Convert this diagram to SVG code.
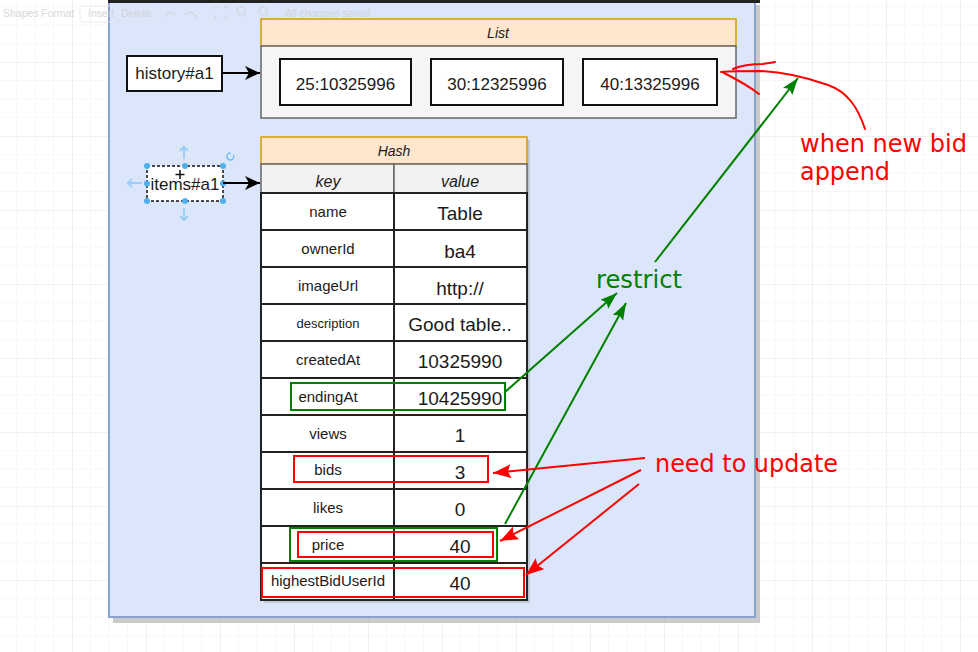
<svg xmlns="http://www.w3.org/2000/svg" width="978" height="652" viewBox="0 0 978 652">
<defs>
<pattern id="grid" x="72" y="62" width="74" height="74" patternUnits="userSpaceOnUse">
<rect width="74" height="74" fill="#ffffff"/>
<path d="M18.5 0V74M37 0V74M55.5 0V74M0 18.5H74M0 37H74M0 55.5H74" stroke="#f8f8f8" stroke-width="1" fill="none"/>
<path d="M0.5 0V74M0 0.5H74" stroke="#f0f0f0" stroke-width="1" fill="none"/>
</pattern>
<marker id="ab" markerUnits="userSpaceOnUse" markerWidth="16" markerHeight="14" refX="15" refY="7" orient="auto">
<path d="M0,0 L15,7 L0,14 L4,7 z" fill="#000"/>
</marker>
<marker id="ag" markerUnits="userSpaceOnUse" markerWidth="18" markerHeight="12" refX="17" refY="6" orient="auto">
<path d="M0,0 L17,6 L0,12 L3,6 z" fill="#008000"/>
</marker>
<marker id="ar" markerUnits="userSpaceOnUse" markerWidth="19" markerHeight="14" refX="18" refY="7" orient="auto">
<path d="M0,0 L18,7 L0,14 L3,7 z" fill="#ff0000"/>
</marker>
</defs>
<style>
.t{font-family:"Liberation Sans",Arial,Helvetica,sans-serif;fill:#1a1a1a;text-anchor:middle}
.k{font-size:15px}
.v{font-size:19px}
.cell{fill:#ffffff;stroke:#222;stroke-width:2}
.box{fill:#ffffff;stroke:#111;stroke-width:2}
.hdr{fill:#ffe6cc;stroke:#d79b00;stroke-width:1.5}
.ann{font-family:"DejaVu Sans","Open Sans",sans-serif;font-size:24px}
.tb{font-family:"Liberation Sans",Arial,sans-serif;font-size:10.5px;fill:#cfcfcf}
.g{stroke:#008000;stroke-width:2;fill:none}
.r{stroke:#ff0000;stroke-width:2;fill:none}
.hd{fill:#4fb0ee}
</style>
<rect width="978" height="652" fill="url(#grid)"/>
<g id="panel">
<rect x="113" y="5" width="647" height="618" fill="#b5b5b5" opacity="0.7"/>
<rect x="109" y="1" width="646" height="616" fill="#dce6fa" stroke="#8ba2cf" stroke-width="2"/>
<rect x="108" y="0" width="652" height="3" fill="#222"/>
</g>
<g id="toolbar" opacity="0.8">
<text class="tb" x="3" y="17">Shapes</text>
<text class="tb" x="41" y="17">Format</text>
<rect x="80" y="6" width="72" height="16" rx="2" fill="none" stroke="#e6e6e6"/>
<text class="tb" x="88" y="17">Insert</text>
<text class="tb" x="121" y="17">Delete</text>
<path d="M165 17 q4 -8 10 -2 M185 15 q6 -6 11 2" stroke="#cfcfcf" stroke-width="1.5" fill="none"/>
<path d="M215 9v-2h3M224 7h3v2M227 16v2h-3M218 18h-3v-2" stroke="#cfcfcf" fill="none"/>
<circle cx="241" cy="11" r="4" fill="none" stroke="#cfcfcf"/><path d="M244 14l3 3" stroke="#cfcfcf"/>
<circle cx="263" cy="11" r="4" fill="none" stroke="#cfcfcf"/><path d="M266 14l3 3" stroke="#cfcfcf"/>
<text class="tb" x="285" y="17">All changes saved</text>
</g>
<g id="list">
<rect class="hdr" x="261" y="19" width="475" height="27"/>
<text class="t" x="498" y="38" font-size="14" font-style="italic">List</text>
<rect x="261" y="46" width="475" height="72" fill="#f5f5f5" stroke="#666" stroke-width="1.5"/>
</g>
<g id="bid1"><rect class="box" x="280" y="59" width="131" height="46"/><text class="t" x="345.5" y="90" font-size="17">25:10325996</text></g>
<g id="bid2"><rect class="box" x="431" y="59" width="132" height="46"/><text class="t" x="497" y="90" font-size="17">30:12325996</text></g>
<g id="bid3"><rect class="box" x="583" y="59" width="134" height="46"/><text class="t" x="650" y="90" font-size="17">40:13325996</text></g>
<g id="history"><rect class="box" x="127" y="56" width="95" height="35"/><text class="t" x="174.5" y="79" font-size="17">history#a1</text></g>
<g id="items">
<rect x="147" y="166" width="76" height="35" fill="#fff" stroke="#111" stroke-width="1.5" stroke-dasharray="3,2"/>
<text class="t" x="185" y="190" font-size="17">items#a1</text>
<path d="M180 170v9M175.5 174.5h9" stroke="#111" stroke-width="1.5"/>
<g class="hd">
<circle cx="147" cy="166" r="3"/><circle cx="185" cy="166" r="3"/><circle cx="223" cy="166" r="3"/>
<circle cx="147" cy="183.5" r="3"/><circle cx="223" cy="183.5" r="3"/>
<circle cx="147" cy="201" r="3"/><circle cx="185" cy="201" r="3"/><circle cx="223" cy="201" r="3"/>
</g>
<g opacity="0.45" stroke="#4fb0ee" stroke-width="2" fill="none">
<path d="M184 159V147M180 151l4-4 4 4"/>
<path d="M184 208V220M180 216l4 4 4-4"/>
<path d="M142 183H128M132 179l-4 4 4 4"/>
</g>
<path d="M233.5 155 a3.5 3.5 0 1 1 -3 -2" stroke="#4fb0ee" stroke-width="1.3" fill="none" opacity="0.8"/>
</g>
<g id="hash">
<rect x="264" y="140" width="266" height="463" fill="#999" opacity="0.4"/>
<rect class="hdr" x="261" y="137" width="266" height="27"/>
<text class="t" x="394" y="156" font-size="14" font-style="italic">Hash</text>
<rect x="261" y="164" width="133" height="29" fill="#f2f2f2" stroke="#666" stroke-width="1.5"/>
<rect x="394" y="164" width="133" height="29" fill="#f2f2f2" stroke="#666" stroke-width="1.5"/>
<text class="t" x="328" y="187" font-size="16" font-style="italic" fill="#444">key</text>
<text class="t" x="460" y="187" font-size="16" font-style="italic" fill="#444">value</text>
<g id="row-name"><rect class="cell" x="261" y="193" width="133" height="37"/><rect class="cell" x="394" y="193" width="133" height="37"/><text class="t k" x="328" y="217">name</text><text class="t v" x="460" y="220">Table</text></g>
<g id="row-ownerId"><rect class="cell" x="261" y="230" width="133" height="37"/><rect class="cell" x="394" y="230" width="133" height="37"/><text class="t k" x="328" y="254">ownerId</text><text class="t v" x="460" y="258">ba4</text></g>
<g id="row-imageUrl"><rect class="cell" x="261" y="267" width="133" height="37"/><rect class="cell" x="394" y="267" width="133" height="37"/><text class="t k" x="328" y="291">imageUrl</text><text class="t v" x="460" y="295">http://</text></g>
<g id="row-description"><rect class="cell" x="261" y="304" width="133" height="37"/><rect class="cell" x="394" y="304" width="133" height="37"/><text class="t" x="328" y="328" font-size="13">description</text><text class="t v" x="460" y="331">Good table..</text></g>
<g id="row-createdAt"><rect class="cell" x="261" y="341" width="133" height="37"/><rect class="cell" x="394" y="341" width="133" height="37"/><text class="t k" x="328" y="365">createdAt</text><text class="t v" x="460" y="368">10325990</text></g>
<g id="row-endingAt"><rect class="cell" x="261" y="378" width="133" height="37"/><rect class="cell" x="394" y="378" width="133" height="37"/><text class="t k" x="328" y="402">endingAt</text><text class="t v" x="460" y="405">10425990</text></g>
<g id="row-views"><rect class="cell" x="261" y="415" width="133" height="37"/><rect class="cell" x="394" y="415" width="133" height="37"/><text class="t k" x="328" y="439">views</text><text class="t v" x="460" y="442">1</text></g>
<g id="row-bids"><rect class="cell" x="261" y="452" width="133" height="37"/><rect class="cell" x="394" y="452" width="133" height="37"/><text class="t k" x="328" y="475">bids</text><text class="t v" x="460" y="479">3</text></g>
<g id="row-likes"><rect class="cell" x="261" y="489" width="133" height="37"/><rect class="cell" x="394" y="489" width="133" height="37"/><text class="t k" x="328" y="513">likes</text><text class="t v" x="460" y="516">0</text></g>
<g id="row-price"><rect class="cell" x="261" y="526" width="133" height="37"/><rect class="cell" x="394" y="526" width="133" height="37"/><text class="t k" x="328" y="550">price</text><text class="t v" x="460" y="553">40</text></g>
<g id="row-highestBidUserId"><rect class="cell" x="261" y="563" width="133" height="37"/><rect class="cell" x="394" y="563" width="133" height="37"/><text class="t k" x="328" y="586">highestBidUserId</text><text class="t v" x="460" y="590">40</text></g>
</g>
<g id="highlights">
<rect class="g" x="291" y="383" width="214" height="27"/>
<rect class="g" x="290" y="528" width="207" height="33"/>
<rect class="r" x="294" y="456" width="194" height="26"/>
<rect class="r" x="298" y="532" width="195" height="25"/>
<rect class="r" x="262" y="568" width="262" height="29"/>
</g>
<g id="connectors">
<path d="M222 73H260" stroke="#000" stroke-width="2" fill="none" marker-end="url(#ab)"/>
<path d="M223 183H260" stroke="#000" stroke-width="2" fill="none" marker-end="url(#ab)"/>
<path class="g" d="M505 392L617 293" marker-end="url(#ag)"/>
<path class="g" d="M505 524L626 303" marker-end="url(#ag)"/>
<path class="g" d="M655 262L798 78" marker-end="url(#ag)"/>
<path class="r" d="M645 458L493 473" marker-end="url(#ar)"/>
<path class="r" d="M641 470L500 541" marker-end="url(#ar)"/>
<path class="r" d="M639 484L526 575" marker-end="url(#ar)"/>
<path class="r" d="M865 129 C858 108 848 92 828 85 C805 77 785 72 760 71 C745 71 733 71 721 72 M733 69 C740 66 752 64 763 64 C768 63 772 63 775 62 M724 73 C738 80 750 87 759 94" stroke-linecap="round"/>
</g>
<g id="labels">
<text class="ann" x="596" y="288" fill="#008000" textLength="86" lengthAdjust="spacingAndGlyphs">restrict</text>
<text class="ann" x="800" y="152" fill="#ff0000" textLength="167" lengthAdjust="spacingAndGlyphs">when new bid</text>
<text class="ann" x="800" y="180" fill="#ff0000" textLength="90" lengthAdjust="spacingAndGlyphs">append</text>
<text class="ann" x="655" y="472" fill="#ff0000" textLength="183" lengthAdjust="spacingAndGlyphs">need to update</text>
</g>
</svg>
